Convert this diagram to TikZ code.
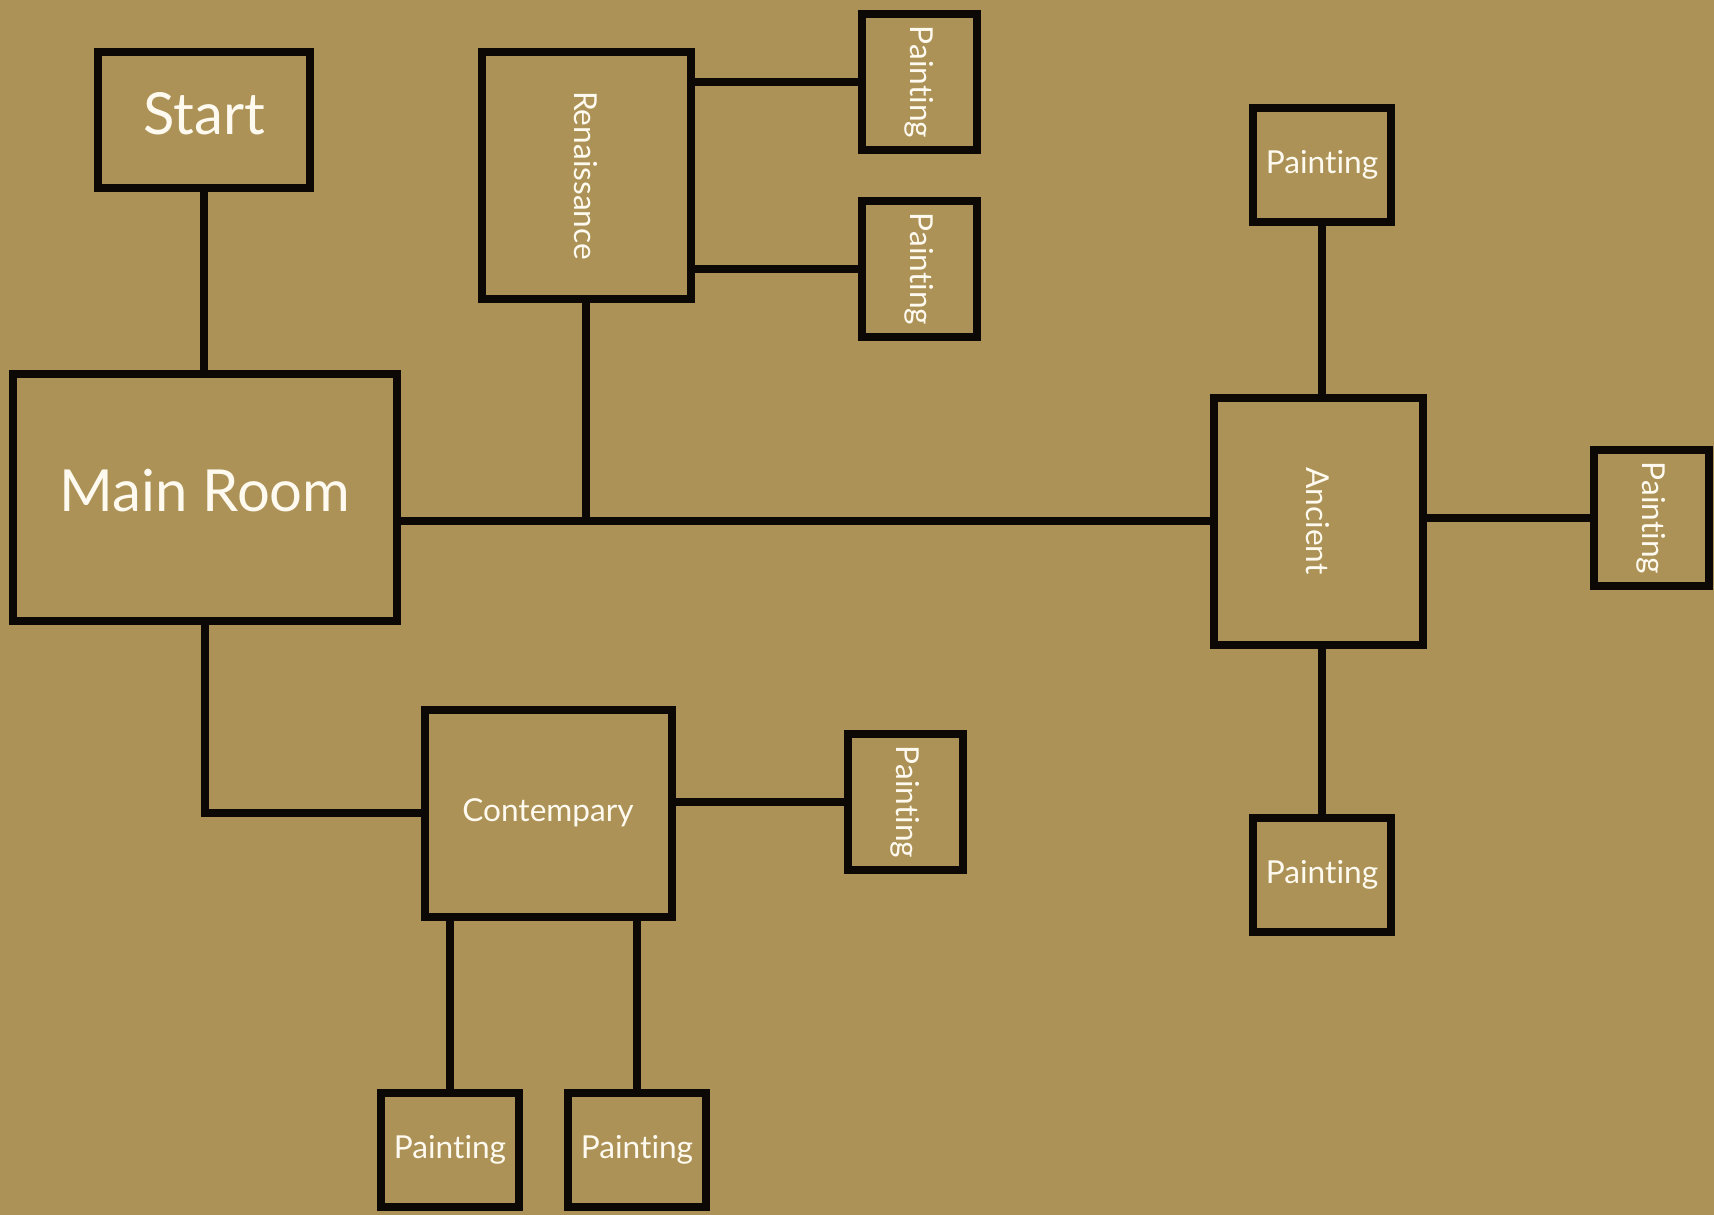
\documentclass[tikz,border=0pt]{standalone}
\usepackage{fontspec}
\setmainfont{Lato}[Ligatures={NoCommon}]
\usepackage{graphicx}
\usepackage{tikz}
\usetikzlibrary{calc}

\definecolor{gold}{HTML}{AC9256}
\definecolor{cream}{HTML}{FFFAF0}
\definecolor{ink}{HTML}{0B0806}
\newcommand{\vlabel}[1]{\rotatebox{-90}{#1}}

\begin{document}
\begin{tikzpicture}[
    room/.style={draw=ink,line width=0.08cm,text=cream,inner sep=0pt,
      font=\fontsize{9}{11}\selectfont},
    bigroom/.style={room,text depth=0.14cm,font=\fontsize{16.5}{20}\selectfont},
    painting/.style={room,minimum width=1.38cm,minimum height=1.14cm},
    vpainting/.style={room,minimum width=1.15cm,minimum height=1.36cm},
    link/.style={draw=ink,line width=0.08cm}]
  \fill[gold] (0,0) rectangle (17.14,-12.15);
  \useasboundingbox (0,0) rectangle (17.14,-12.15);
  % rooms
  \node[bigroom,minimum width=2.12cm,minimum height=1.36cm] (start) at (2.04,-1.20) {Start};
  \node[bigroom,minimum width=3.84cm,minimum height=2.47cm] (main) at (2.05,-4.97) {Main Room};
  \node[room,minimum width=2.09cm,minimum height=2.47cm] (ren) at (5.86,-1.755) {\vlabel{Renaissance}};
  \node[room,minimum width=2.09cm,minimum height=2.47cm] (anc) at (13.18,-5.21) {\vlabel{Ancient}};
  \node[room,minimum width=2.47cm,minimum height=2.07cm] (cont) at (5.48,-8.13) {Contempary};
  % paintings
  \node[vpainting] (renA) at (9.19,-0.82) {\vlabel{Painting}};
  \node[vpainting] (renB) at (9.19,-2.69) {\vlabel{Painting}};
  \node[painting] (ancA) at (13.22,-1.65) {Painting};
  \node[vpainting] (ancB) at (16.51,-5.18) {\vlabel{Painting}};
  \node[painting] (ancC) at (13.22,-8.75) {Painting};
  \node[vpainting] (contA) at (9.05,-8.02) {\vlabel{Painting}};
  \node[painting] (contB) at (4.50,-11.50) {Painting};
  \node[painting] (contC) at (6.37,-11.50) {Painting};
  % corridors
  \draw[link] (start.south) -- (start.south |- main.north);
  \draw[link] (anc.west) -- (anc.west -| main.east);
  \draw[link] (ren.south) -- (ren.south |- anc.west);
  \draw[link] (renA.west) -- (renA.west -| ren.east);
  \draw[link] (renB.west) -- (renB.west -| ren.east);
  \draw[link] (ancA.south) -- (ancA.south |- anc.north);
  \draw[link] (ancB.west) -- (ancB.west -| anc.east);
  \draw[link] (ancC.north) -- (ancC.north |- anc.south);
  \draw[link] (main.south) |- (cont.west);
  \draw[link] (contA.west) -- (contA.west -| cont.east);
  \draw[link] (contB.north) -- (contB.north |- cont.south);
  \draw[link] (contC.north) -- (contC.north |- cont.south);
\end{tikzpicture}
\end{document}
